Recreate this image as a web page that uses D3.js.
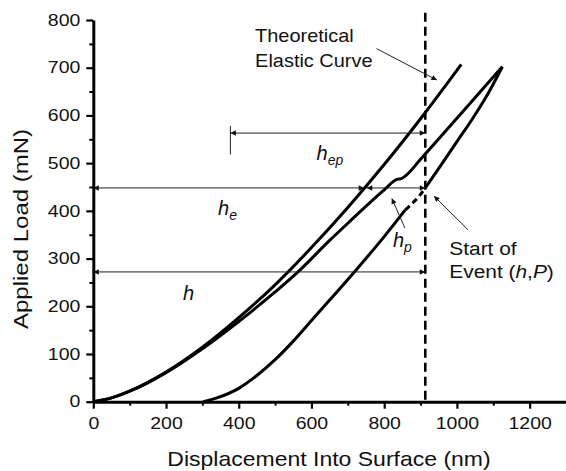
<!DOCTYPE html>
<html>
<head>
<meta charset="utf-8">
<script src="https://cdn.jsdelivr.net/npm/d3@7"></script>
<style>
  body { margin: 0; background: #fff; }
  svg { display: block; font-family: "Liberation Sans", Arial, Helvetica, sans-serif; }
</style>
</head>
<body>
<svg id="chart" width="566" height="471"></svg>
<script>
// values: displacement in nm, load in mN
const elasticDisp = [0, 50, 100, 200, 300, 400, 500, 600, 700, 800, 900, 1012];
const elasticLoad = [0, 8, 22, 62, 114, 176, 245, 323, 407, 497, 593, 707];

const loadingDisp = [0, 50, 100, 200, 300, 400, 500, 560, 650, 700, 800, 835, 845, 858, 900, 1000, 1060, 1125];
const loadingLoad = [0, 8, 22, 61, 111, 168, 230, 270, 338, 374, 444, 466, 467, 473, 508, 594, 646, 702];

const unloadLowDisp = [302, 340, 400, 450, 500, 550, 600, 650, 718, 800, 858];
const unloadLowLoad = [0, 8, 28, 55, 88, 127, 170, 213, 272, 346, 402];
const popInDisp = [858, 875, 893, 913];
const popInLoad = [402, 414, 428, 448];
const unloadHighDisp = [913, 960, 1000, 1041, 1085, 1125];
const unloadHighLoad = [448, 500, 545, 591, 645, 702];

const eventDisp = 913;          // h of the start of event
const xTicks = [0, 200, 400, 600, 800, 1000, 1200];
const yTicks = [0, 100, 200, 300, 400, 500, 600, 700, 800];

const width = 566, height = 471;
const marginLeft = 93.3, marginTop = 20, marginBottom = 69.3;

const svg = d3.select('#chart');
const x = d3.scaleLinear([0, 1300], [marginLeft, width]);
const y = d3.scaleLinear([0, 800], [height - marginBottom, marginTop]);

const zip = (xs, ys) => xs.map((d, i) => [d, ys[i]]);

// stretch text horizontally a little, the original font runs wide
function stretch(sel, s) {
  sel.each(function() {
    const tx = +this.getAttribute('x') || 0;
    this.setAttribute('transform', `translate(${tx * (1 - s)},0) scale(${s},1)`);
  });
}

svg.append('defs').append('marker')
    .attr('id', 'head')
    .attr('viewBox', '0 0 10 10')
    .attr('refX', 10).attr('refY', 5)
    .attr('markerWidth', 8).attr('markerHeight', 5.5)
    .attr('markerUnits', 'userSpaceOnUse')
    .attr('orient', 'auto-start-reverse')
  .append('path').attr('d', 'M0,0L10,5L0,10z').attr('fill', '#111');

// axes
const xMinor = d3.range(100, 1300, 200);
const yMinor = d3.range(50, 800, 100);

svg.append('g')
    .attr('transform', `translate(0,${y(0)})`)
    .call(d3.axisBottom(x).tickValues(xMinor).tickSize(4).tickFormat(''))
    .call(g => g.select('.domain').remove())
    .call(g => g.selectAll('line').attr('stroke-width', 2));

svg.append('g')
    .attr('transform', `translate(${x(0)},0)`)
    .call(d3.axisLeft(y).tickValues(yMinor).tickSize(4).tickFormat(''))
    .call(g => g.select('.domain').remove())
    .call(g => g.selectAll('line').attr('stroke-width', 2));

const xAxis = svg.append('g')
    .attr('transform', `translate(0,${y(0)})`)
    .call(d3.axisBottom(x).tickValues(xTicks).tickFormat(d3.format('d'))
      .tickSize(7).tickPadding(9).tickSizeOuter(0))
    .call(g => g.select('.domain').attr('stroke-width', 3))
    .call(g => g.selectAll('line').attr('stroke-width', 2.2));
xAxis.selectAll('text').attr('font-size', 16.5).attr('fill', '#111').call(stretch, 1.18);

const yAxis = svg.append('g')
    .attr('transform', `translate(${x(0)},0)`)
    .call(d3.axisLeft(y).tickValues(yTicks).tickFormat(d3.format('d'))
      .tickSize(7).tickPadding(6).tickSizeOuter(0))
    .call(g => g.select('.domain').attr('stroke-width', 3))
    .call(g => g.selectAll('line').attr('stroke-width', 2.2));
yAxis.selectAll('text').attr('font-size', 16.5).attr('fill', '#111').call(stretch, 1.18);

svg.append('text')
    .attr('x', 329).attr('y', 466.5)
    .attr('text-anchor', 'middle')
    .attr('font-size', 20)
    .attr('fill', '#111')
    .text('Displacement Into Surface (nm)')
    .call(stretch, 1.15);

svg.append('text')
    .attr('transform', 'translate(28,229) rotate(-90) scale(1.2,1)')
    .attr('text-anchor', 'middle')
    .attr('font-size', 20)
    .attr('fill', '#111')
    .text('Applied Load (mN)');

// curves
const line = d3.line().x(d => x(d[0])).y(d => y(d[1])).curve(d3.curveMonotoneX);
const curves = svg.append('g')
    .attr('fill', 'none')
    .attr('stroke', '#000')
    .attr('stroke-width', 3)
    .attr('stroke-linejoin', 'round');

curves.append('path').attr('d', line(zip(elasticDisp, elasticLoad)));
curves.append('path').attr('d', line(zip(loadingDisp, loadingLoad)));
curves.append('path').attr('d', line(zip(unloadLowDisp, unloadLowLoad)));
curves.append('path').attr('d', line(zip(popInDisp, popInLoad))).attr('stroke-dasharray', '6,4');
curves.append('path').attr('d', line(zip(unloadHighDisp, unloadHighLoad)));

// event line
svg.append('line')
    .attr('x1', x(eventDisp)).attr('x2', x(eventDisp))
    .attr('y1', y(815)).attr('y2', y(0))
    .attr('stroke', '#000')
    .attr('stroke-width', 2.6)
    .attr('stroke-dasharray', '9,5');

// dimension arrows [x1, load1, x2, load2, both ends?]
const dims = [
  [0, 272, eventDisp, 272, true],    // h
  [0, 448, 745, 448, true],          // he
  [752, 448, eventDisp, 448, true],  // hp
  [377, 563, eventDisp, 563, true],  // hep
  [779, 740, 945, 674, false],       // to elastic curve
  [857, 364, 821, 426, false],       // hp label
  [1031, 360, 937, 431, false]       // start of event
];
svg.append('g')
    .attr('stroke', '#222')
    .attr('stroke-width', 1)
  .selectAll('line')
  .data(dims)
  .join('line')
    .attr('x1', d => x(d[0])).attr('y1', d => y(d[1]))
    .attr('x2', d => x(d[2])).attr('y2', d => y(d[3]))
    .attr('marker-end', 'url(#head)')
    .attr('marker-start', d => d[4] ? 'url(#head)' : null);

svg.append('line')
    .attr('x1', x(377)).attr('x2', x(377))
    .attr('y1', y(578)).attr('y2', y(518))
    .attr('stroke', '#222').attr('stroke-width', 1);

// labels
const note = svg.append('g').attr('fill', '#111').attr('font-size', 19);
note.append('text').attr('x', x(445)).attr('y', y(754)).text('Theoretical').call(stretch, 1.05);
note.append('text').attr('x', x(445)).attr('y', y(701)).text('Elastic Curve').call(stretch, 1.05);
const ev1 = note.append('text').attr('x', x(979)).attr('y', y(307)).text('Start of');
const ev2 = note.append('text').attr('x', x(979)).attr('y', y(259));
ev2.append('tspan').text('Event (');
ev2.append('tspan').attr('font-style', 'italic').text('h');
ev2.append('tspan').text(',');
ev2.append('tspan').attr('font-style', 'italic').text('P');
ev2.append('tspan').text(')');
ev1.call(stretch, 1.1);
ev2.call(stretch, 1.1);

const hLabels = [
  [614, 506, 'ep'],
  [343, 391, 'e'],
  [824, 324, 'p'],
  [247, 213, '']
];
hLabels.forEach(([hx, hy, sub]) => {
  const t = note.append('text')
      .attr('x', x(hx)).attr('y', y(hy))
      .attr('font-size', 20)
      .attr('font-style', 'italic');
  t.append('tspan').text('h');
  if (sub) t.append('tspan').attr('font-size', 14).attr('dy', 5).text(sub);
});
</script>
</body>
</html>
